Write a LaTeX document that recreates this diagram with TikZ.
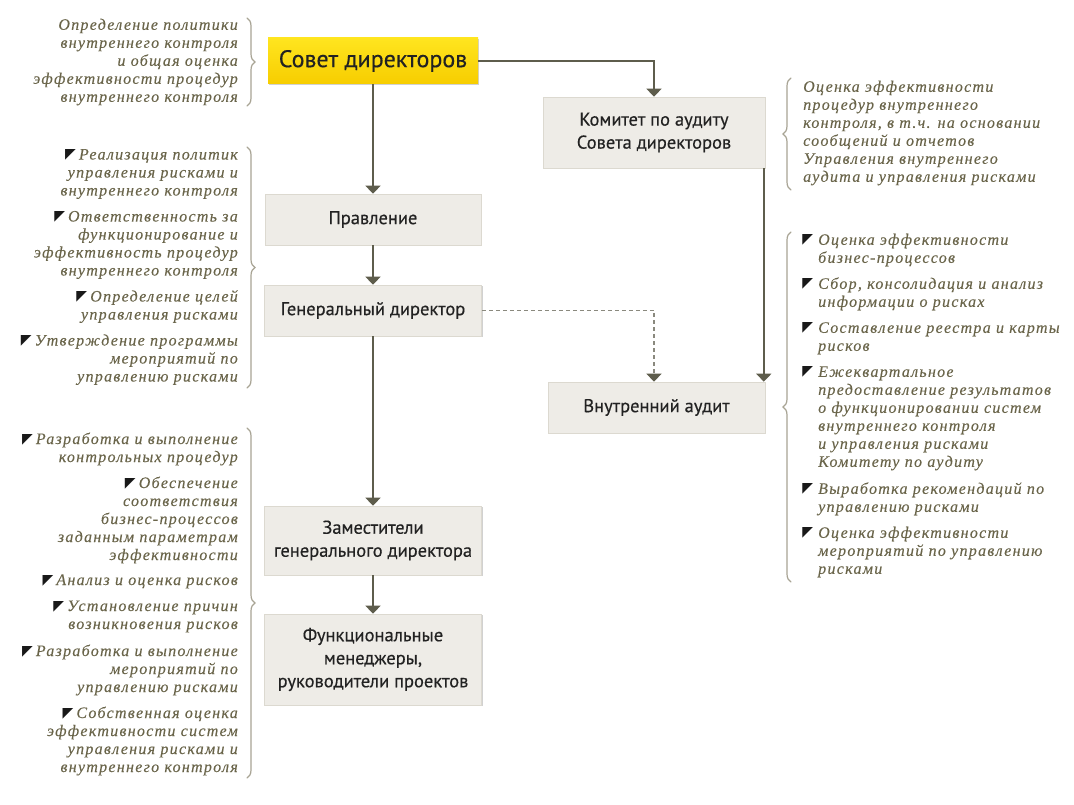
\documentclass[tikz,border=0pt]{standalone}
\usepackage{fontspec}
\setmainfont{PT Sans}[FakeBold=0.35]
\newfontfamily\notefont[LetterSpace=8,FakeBold=0.15]{Liberation Serif}
\newfontfamily\bulfont{DejaVu Sans}
\usetikzlibrary{arrows.meta,shadows,decorations.pathreplacing}

\definecolor{boxfill}{HTML}{EEECE7}
\definecolor{boxline}{HTML}{DCD9D0}
\definecolor{boxtext}{HTML}{222222}
\definecolor{linecol}{HTML}{5E5D4C}
\definecolor{dashcol}{HTML}{8A897E}
\definecolor{notecol}{HTML}{6A654A}
\definecolor{bracecol}{HTML}{A8A494}
\definecolor{yelltop}{HTML}{FFE51F}
\definecolor{yellbot}{HTML}{F7CD00}

\newcommand{\bul}{\raisebox{1pt}{\bulfont\fontsize{14}{14}\selectfont\textcolor{black!90}{◤}}\hspace{3pt}}
\newcommand{\rbul}{\llap{\bul\hspace{2pt}}}

\begin{document}
\begin{tikzpicture}[x=1pt,y=-1pt,
	box/.style={draw=boxline,fill=boxfill,line width=0.6pt,font=\fontsize{18.5}{23}\selectfont,text=boxtext,align=center,inner sep=0pt,
		drop shadow={shadow xshift=1.2pt,shadow yshift=-1.2pt,opacity=0.18,fill=black}},
	topbox/.style={box,draw=none,top color=yelltop,bottom color=yellbot,font=\fontsize{24}{24}\selectfont},
	arr/.style={draw=linecol,line width=1.6pt,-{Triangle[width=15pt,length=8pt,color=linecol]}},
	dashline/.style={draw=dashcol,line width=1.3pt,dash pattern=on 4pt off 3pt},
	note/.style={text=notecol,font=\notefont\itshape\fontsize{16}{18}\selectfont,inner sep=0pt},
	brc/.style={draw=bracecol,line width=1.2pt,line cap=round,decorate,decoration={brace,amplitude=8pt}}]
	\useasboundingbox[fill=white] (0,0) rectangle (1074,805);

	\node[topbox,minimum width=210pt,minimum height=46pt] (sovet) at (373,61) {Совет директоров};
	\node[box,minimum width=222pt,minimum height=71pt] (komitet) at (654,132.5) {Комитет по аудиту\\Совета директоров};
	\node[box,minimum width=216pt,minimum height=51pt] (pravl) at (373,219.5) {Правление};
	\node[box,minimum width=217pt,minimum height=51pt] (gendir) at (373,310.5) {Генеральный директор};
	\node[box,minimum width=217pt,minimum height=51pt] (vaudit) at (656.5,407.5) {Внутренний аудит};
	\node[box,minimum width=217pt,minimum height=69pt] (zam) at (373,540.5) {Заместители\\генерального директора};
	\node[box,minimum width=217pt,minimum height=91pt] (funk) at (373,659.5) {Функциональные\\менеджеры,\\руководители проектов};

	\draw[arr] (sovet) -- (pravl);
	\draw[arr] (sovet.east) -| (komitet.north);
	\draw[arr] (pravl) -- (gendir);
	\draw[arr] (gendir) -- (zam);
	\draw[arr] (zam) -- (funk);
	\draw[arr] ([xshift=-1.5pt]komitet.south east) -- ([xshift=-1.5pt]vaudit.north east);
	\draw[arr,dashline] (gendir.east) -| ([xshift=-2.5pt]vaudit.north);

	\node[note,align=right,anchor=east] (n1) at (238,62) {Определение политики\\внутреннего контроля\\и общая оценка\\эффективности процедур\\внутреннего контроля};
	\node[note,align=right,anchor=east] (n2) at (238,267) {\bul Реализация политик\\управления рисками и\\внутреннего контроля\\[8pt]
		\bul Ответственность за\\функционирование и\\эффективность процедур\\внутреннего контроля\\[8pt]
		\bul Определение целей\\управления рисками\\[8pt]
		\bul Утверждение программы\\мероприятий по\\управлению рисками};
	\node[note,align=right,anchor=east] (n3) at (238,604) {\bul Разработка и выполнение\\контрольных процедур\\[8pt]
		\bul Обеспечение\\соответствия\\бизнес-процессов\\заданным параметрам\\эффективности\\[7pt]
		\bul Анализ и оценка рисков\\[8pt]
		\bul Установление причин\\возникновения рисков\\[9pt]
		\bul Разработка и выполнение\\мероприятий по\\управлению рисками\\[8pt]
		\bul Собственная оценка\\эффективности систем\\управления рисками и\\внутреннего контроля};
	\node[note,align=left,anchor=west] (n4) at (803,133) {Оценка эффективности\\процедур внутреннего\\контроля, в т.ч. на основании\\сообщений и отчетов\\Управления внутреннего\\аудита и управления рисками};
	\node[note,align=left,anchor=west] (n5) at (818,405.5) {\rbul Оценка эффективности\\бизнес-процессов\\[8pt]
		\rbul Сбор, консолидация и анализ\\информации о рисках\\[8pt]
		\rbul Составление реестра и карты\\рисков\\[8pt]
		\rbul Ежеквартальное\\предоставление результатов\\о функционировании систем\\внутреннего контроля\\и управления рисками\\Комитету по аудиту\\[9pt]
		\rbul Выработка рекомендаций по\\управлению рисками\\[8pt]
		\rbul Оценка эффективности\\мероприятий по управлению\\рисками};

	\draw[brc] (247,18) -- (247,106);
	\draw[brc] (247,147) -- (247,388);
	\draw[brc] (247,428) -- (247,778);
	\draw[brc] (791,190) -- (791,78);
	\draw[brc] (791,582) -- (791,232);
\end{tikzpicture}
\end{document}
